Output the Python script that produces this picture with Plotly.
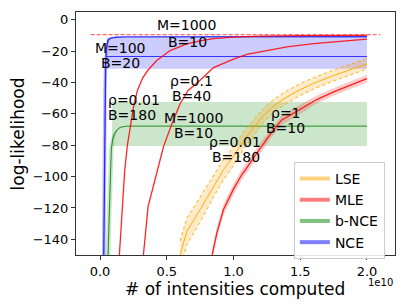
import plotly.graph_objects as go

# ---------------- data (x in units of 1e10 intensities) ----------------
# NCE (M=100, B=20)
nce_x = [0.028, 0.030, 0.032, 0.035, 0.037, 0.042, 0.048, 0.060, 0.080, 0.120, 0.200, 0.500, 1.000, 1.500, 2.000]
nce_y = [-150, -125, -95, -65, -45, -28, -18, -13, -11.6, -11.1, -10.9, -10.8, -10.8, -10.8, -10.8]
nce_xstd = [0.014, 0.014, 0.014, 0.014, 0.013, 0.012, 0.010, 0.008, 0.005, 0.0, 0.0, 0.0, 0.0, 0.0, 0.0]
nce_final_x = [0.05, 2.0]
nce_final_mean = [-23.4, -23.4]
nce_final_lo = [-31.2, -31.2]
nce_final_hi = [-11.2, -11.2]

# b-NCE (rho=0.01, B=180)
bnce_x = [0.060, 0.066, 0.072, 0.078, 0.085, 0.095, 0.110, 0.130, 0.150, 0.200, 0.500, 1.000, 1.500, 2.000]
bnce_y = [-150, -130, -110, -95, -82, -76, -72.4, -70, -68.6, -67.8, -67.8, -67.8, -67.8, -67.8]
bnce_xstd = [0.018, 0.018, 0.018, 0.018, 0.017, 0.015, 0.012, 0.008, 0.004, 0.0, 0.0, 0.0, 0.0, 0.0]
bnce_final_x = [0.09, 2.0]
bnce_final_lo = [-80.4, -80.4]
bnce_final_hi = [-52.4, -52.4]

# MLE runs
mle1_x = [0.145, 0.165, 0.185, 0.205, 0.225, 0.25, 0.28, 0.32, 0.36, 0.425, 0.525, 0.65, 0.75, 0.85, 1.0, 1.2, 1.5, 2.0]
mle1_y = [-150, -120, -96, -80, -68, -56, -45, -37, -32, -26, -19.6, -15.4, -13.4, -12.0, -11.0, -10.4, -10.1, -9.9]

mle2_x = [0.325, 0.36, 0.40, 0.43, 0.475, 0.54, 0.60, 0.66, 0.75, 0.85, 1.0, 1.1, 1.25, 1.4, 1.6, 1.8, 2.0]
mle2_y = [-150, -119, -106, -95.6, -81, -66, -53.5, -45, -38.5, -30.5, -25, -22, -19.5, -17.3, -15.2, -13.6, -12.3]

mle3_x = [0.84, 0.875, 0.925, 1.0, 1.06, 1.09, 1.175, 1.275, 1.36, 1.5, 1.62, 1.75, 1.88, 2.0]
mle3_y = [-150, -136, -121, -108, -99, -95.6, -85, -73, -64, -57, -51, -46, -41.5, -37.5]
mle3_std = [3.5, 3.5, 3.5, 3.5, 3.5, 3.5, 3.5, 3.0, 3.0, 3.0, 2.5, 2.5, 2.5, 2.5]

# LSE
lse_x = [0.60, 0.65, 0.75, 0.85, 0.925, 1.0, 1.075, 1.15, 1.225, 1.3, 1.375, 1.5, 1.6, 1.75, 1.875, 2.0]
lse_y = [-150, -135, -121, -106, -95.6, -87, -77, -69, -61, -55, -50.5, -44.5, -40.5, -35.5, -31.5, -28]
lse_std = [9, 8.5, 8, 7, 6.5, 6, 5.5, 5, 4.5, 4.2, 4, 3.8, 3.6, 3.5, 3.4, 3.3]

ref_x = [-0.07, 2.10]
ref_y = [-9.5, -9.5]

xtick_vals = [0.0, 0.5, 1.0, 1.5, 2.0]
xtick_text = ["0.0", "0.5", "1.0", "1.5", "2.0"]
ytick_vals = [0, -20, -40, -60, -80, -100, -120, -140]
ytick_text = ["0", "\u221220", "\u221240", "\u221260", "\u221280", "\u2212100", "\u2212120", "\u2212140"]

legend_names = ["LSE", "MLE", "b-NCE", "NCE"]
legend_colors = ["rgba(255,165,0,0.5)", "rgba(255,0,0,0.5)", "rgba(0,128,0,0.5)", "rgba(0,0,255,0.5)"]

labels = [
    ("M=1000", 0.648, -3.5), ("B=10", 0.655, -14.0),
    ("M=100", 0.150, -17.8), ("B=20", 0.157, -27.7),
    ("\u03c1=0.01", 0.255, -51.2), ("B=180", 0.237, -60.8),
    ("\u03c1=0.1", 0.682, -39.1), ("B=40", 0.689, -48.7),
    ("M=1000", 0.704, -62.4), ("B=10", 0.704, -72.3),
    ("\u03c1=0.01", 1.011, -77.8), ("B=180", 1.019, -87.4),
    ("\u03c1=1", 1.393, -59.5), ("B=10", 1.393, -69.1),
]

FONT = "DejaVu Sans"
fig = go.Figure()


def hband(x, lo, hi, fill):
    fig.add_trace(go.Scatter(x=x + x[::-1], y=hi + lo[::-1], fill="toself", fillcolor=fill,
                             line=dict(width=0), mode="lines", showlegend=False, hoverinfo="skip"))


def yband(x, y, s, fill, edge=None, dash=None):
    up = [a + b for a, b in zip(y, s)]
    dn = [a - b for a, b in zip(y, s)]
    fig.add_trace(go.Scatter(x=x + x[::-1], y=up + dn[::-1], fill="toself", fillcolor=fill,
                             line=dict(width=0), mode="lines", showlegend=False, hoverinfo="skip"))
    if edge:
        for e in (up, dn):
            fig.add_trace(go.Scatter(x=x, y=e, mode="lines", line=dict(color=edge, width=1, dash=dash),
                                     showlegend=False, hoverinfo="skip"))


def xband(x, y, s, fill):
    lf = [a - b for a, b in zip(x, s)]
    rt = [a + b for a, b in zip(x, s)]
    fig.add_trace(go.Scatter(x=lf + rt[::-1], y=y + y[::-1], fill="toself", fillcolor=fill,
                             line=dict(width=0), mode="lines", showlegend=False, hoverinfo="skip"))


# horizontal final-value bands
hband(nce_final_x, nce_final_lo, nce_final_hi, "rgba(0,0,255,0.2)")
hband(bnce_final_x, bnce_final_lo, bnce_final_hi, "rgba(0,128,0,0.2)")
fig.add_trace(go.Scatter(x=nce_final_x, y=nce_final_mean, mode="lines",
                         line=dict(color="rgba(0,0,255,0.75)", width=1), showlegend=False))

# NCE curve
xband(nce_x, nce_y, nce_xstd, "rgba(0,0,255,0.25)")
fig.add_trace(go.Scatter(x=nce_x, y=nce_y, mode="lines", line=dict(color="rgba(0,0,255,0.8)", width=1.3),
                         showlegend=False))
# b-NCE curve
xband(bnce_x, bnce_y, bnce_xstd, "rgba(0,128,0,0.2)")
fig.add_trace(go.Scatter(x=bnce_x, y=bnce_y, mode="lines", line=dict(color="rgba(0,128,0,0.85)", width=1),
                         showlegend=False))

# LSE
yband(lse_x, lse_y, lse_std, "rgba(255,165,0,0.22)", edge="rgba(255,165,0,0.9)", dash="dot")
fig.add_trace(go.Scatter(x=lse_x, y=lse_y, mode="lines", line=dict(color="rgba(255,165,0,0.9)", width=1),
                         showlegend=False))

# MLE
yband(mle3_x, mle3_y, mle3_std, "rgba(255,0,0,0.2)")
for xs, ys in ((mle1_x, mle1_y), (mle2_x, mle2_y), (mle3_x, mle3_y)):
    fig.add_trace(go.Scatter(x=xs, y=ys, mode="lines", line=dict(color="rgba(255,0,0,0.85)", width=1.3),
                             showlegend=False))

# reference dashed line
fig.add_trace(go.Scatter(x=ref_x, y=ref_y, mode="lines",
                         line=dict(color="rgba(255,0,0,0.75)", width=1, dash="4px,2px"), showlegend=False))

# legend entries
for n, c in zip(legend_names, legend_colors):
    fig.add_trace(go.Scatter(x=[None], y=[None], mode="lines", name=n, line=dict(color=c, width=4)))

for t, x, y in labels:
    fig.add_annotation(x=x, y=y, text=t, showarrow=False, xanchor="center", yanchor="middle",
                       font=dict(family=FONT, size=14, color="black"))

fig.add_annotation(xref="paper", yref="paper", x=0.498, y=-0.14, text="# of intensities computed",
                   showarrow=False, xanchor="center", yanchor="middle",
                   font=dict(family=FONT, size=17, color="black"))
fig.add_annotation(xref="paper", yref="paper", x=-0.182, y=0.5, text="log-likelihood", textangle=-90,
                   showarrow=False, xanchor="center", yanchor="middle",
                   font=dict(family=FONT, size=17, color="black"))
fig.add_annotation(xref="paper", yref="paper", x=1.0, y=-0.112, text="1e10",
                   showarrow=False, xanchor="right", yanchor="middle",
                   font=dict(family=FONT, size=10, color="black"))

axis_common = dict(showgrid=False, zeroline=False, showline=True, mirror=True, linecolor="#333",
                   linewidth=1, ticks="outside", ticklen=4, tickcolor="#333",
                   tickfont=dict(family=FONT, size=13, color="black"))
fig.update_layout(
    width=407, height=305,
    margin=dict(l=76, r=12, t=12, b=50),
    paper_bgcolor="white", plot_bgcolor="white",
    xaxis=dict(range=[-0.18, 2.21], tickvals=xtick_vals, ticktext=xtick_text, **axis_common),
    yaxis=dict(range=[-150, 5], tickvals=ytick_vals, ticktext=ytick_text, **axis_common),
    legend=dict(x=0.683, y=0.383, xanchor="left", yanchor="top", bgcolor="rgba(255,255,255,0.85)",
                bordercolor="#ccc", borderwidth=1, font=dict(family=FONT, size=14, color="black"),
                tracegroupgap=0, itemwidth=30),
    showlegend=True,
)
fig.write_html("out.html", config={"displayModeBar": False},
               post_script="document.body.style.margin='0';document.body.style.padding='0';")
